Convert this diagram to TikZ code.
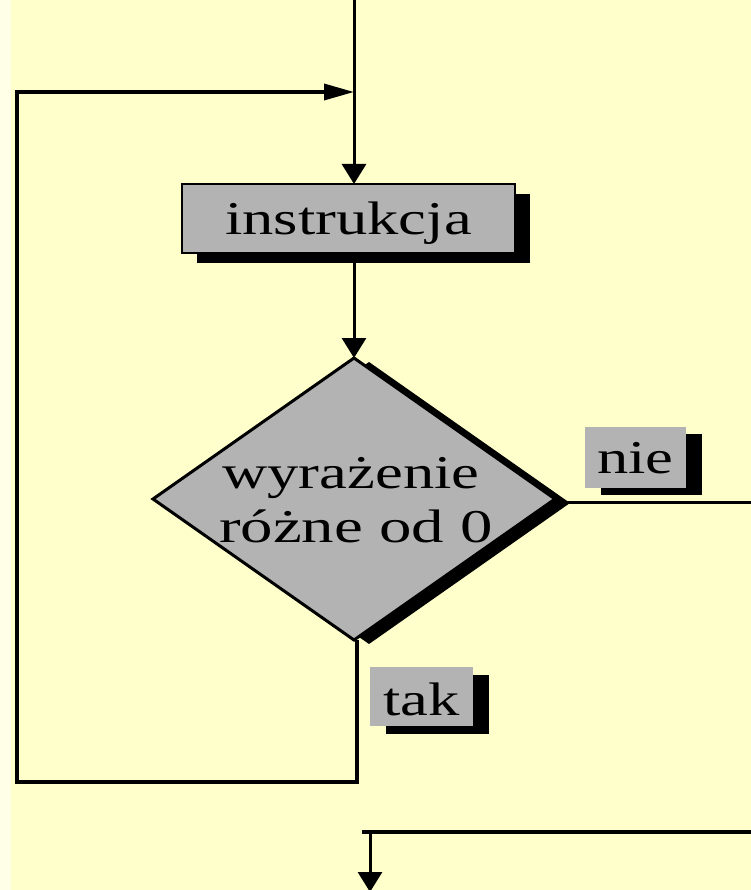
\documentclass[tikz,border=0pt]{standalone}
\usepackage{fontspec}
\setmainfont{Liberation Serif}
\usetikzlibrary{shapes.geometric,shadows,arrows.meta}
\definecolor{paper}{RGB}{255,255,204}
\definecolor{paperedge}{RGB}{255,255,232}
\definecolor{boxgray}{RGB}{179,179,179}
\newcommand\stretchtxt[2][1.33]{\scalebox{#1}[1]{#2}}
\begin{document}
\begin{tikzpicture}[x=1pt,y=-1pt,
  flow/.style={line width=3pt,draw=black},
  loopline/.style={line width=3.5pt,draw=black},
  downtip/.style={-{Triangle[length=20pt,width=24pt]}},
  sidetip/.style={-{Triangle[length=30pt,width=16pt]}},
  txt/.style={font=\fontsize{47pt}{54pt}\selectfont,text=black},
  blockshadow/.style={drop shadow={shadow xshift=15pt,shadow yshift=-10pt,fill=black,opacity=1}},
  stepbox/.style={draw=black,line width=2pt,fill=boxgray,inner sep=0pt,outer sep=0pt,
    minimum width=333pt,minimum height=69pt,blockshadow,txt},
  decision/.style={diamond,draw=black,line width=3pt,fill=boxgray,inner sep=0pt,outer sep=0pt,
    minimum width=402pt,minimum height=282pt,
    drop shadow={shadow xshift=15pt,shadow yshift=-4pt,fill=black,opacity=1}},
  tag/.style={fill=boxgray,inner sep=0pt,outer sep=0pt,txt},
]
\useasboundingbox (0,0) rectangle (751,890);
\fill[paper] (0,0) rectangle (751,890);
\fill[paperedge] (0,0) rectangle (11,890);
\clip (0,0) rectangle (751,890);

% blocks
\node[stepbox,text height=40pt,text depth=7pt] (instr) at (348.5,218.5) {\stretchtxt{instrukcja}};
\node[decision] (cond) at (354,499) {};
\node[txt,anchor=base] (condA) at (351,488) {\stretchtxt{wyrażenie}};
\node[txt,anchor=base] (condB) at (356,542) {\stretchtxt[1.38]{różne od 0}};
\node[tag,minimum width=101pt,minimum height=61pt,text height=31pt,text depth=0pt,
  drop shadow={shadow xshift=16pt,shadow yshift=-7pt,fill=black,opacity=1}] (nie) at (635.5,457.5) {\stretchtxt{nie}};
\node[tag,minimum width=103pt,minimum height=59pt,text height=37pt,text depth=0pt,
  drop shadow={shadow xshift=16pt,shadow yshift=-8pt,fill=black,opacity=1}] (tak) at (421.5,696.5) {\stretchtxt{tak}};

% route points
\coordinate (entry) at (354,-5);
\coordinate (merge) at (354,92);
\coordinate (loopB) at (357,782);
\coordinate (loopL) at (17,782);
\coordinate (loopT) at (17,92);
\coordinate (nieEnd) at (760,502);
\coordinate (exitL) at (362,832);
\coordinate (exitR) at (760,832);
\coordinate (exitJ) at (370,832);
\coordinate (exitD) at (370,892);

% connectors
\draw[flow,downtip] (entry) -- (cond.north |- instr.north);
\draw[flow,downtip] (cond.north |- instr.south) -- (cond.north);
\draw[loopline,sidetip] (cond.south -| loopB) -- (loopB) -- (loopL) -- (loopT) -- (merge);
\draw[flow] (cond.east |- nieEnd) -- (nieEnd);
\draw[loopline] (exitL) -- (exitR);
\draw[flow,downtip] (exitJ) -- (exitD);
\end{tikzpicture}
\end{document}
